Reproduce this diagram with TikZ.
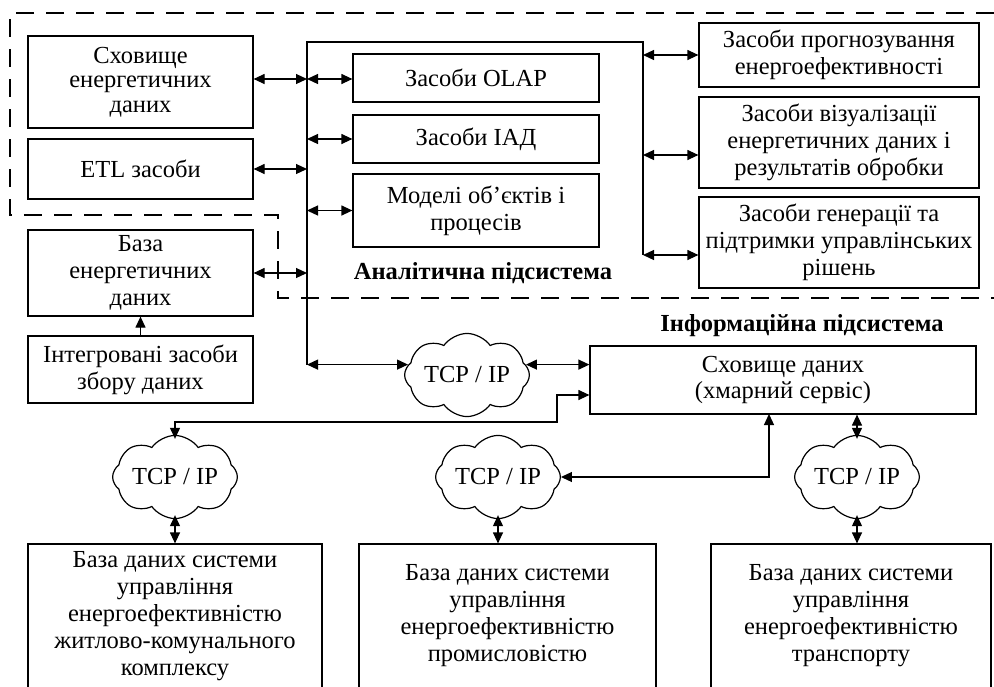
\documentclass[tikz,border=0pt]{standalone}
\usepackage{fontspec}
\setmainfont{Liberation Serif}
\usetikzlibrary{arrows.meta,shapes.symbols,calc}
\begin{document}
\begin{tikzpicture}[x=1pt,y=-1pt,line width=1.2pt,
  txt/.style={font=\fontsize{24.5}{27}\selectfont},
  box/.style={draw,rectangle,inner sep=0pt,align=center,txt},
  cloudn/.style={draw,cloud,cloud puffs=8,cloud puff arc=110,aspect=1.9,
     inner sep=0pt,minimum width=106pt,minimum height=60pt,txt},
  dbl/.style={{Triangle[length=11pt,width=10pt]}-{Triangle[length=11pt,width=10pt]}},
  arr/.style={-{Triangle[length=11pt,width=10pt]}},
  dsh/.style={dash pattern=on 18pt off 12pt},
  ttl/.style={font=\fontsize{24.5}{27}\selectfont\bfseries}]
\useasboundingbox (0,0) rectangle (994,686);
\clip (0,0) rectangle (994,686);
\fill[white] (0,0) rectangle (994,686);

% dashed boundary of the analytic subsystem
\draw[dsh] (994,13) -- (10,13) -- (10,215) -- (278,215) -- (278,298) -- (994,298);

% left boxes
\node[box,minimum width=225pt,minimum height=92pt,font=\fontsize{24.5}{24.5}\selectfont] (sd) at (140.5,82) {Сховище\\енергетичних\\даних};
\node[box,minimum width=225pt,minimum height=60pt] (etl) at (140.5,169) {ETL засоби};
\node[box,minimum width=225pt,minimum height=86pt] (baza) at (140.5,273) {База\\енергетичних\\даних};
\node[box,minimum width=225pt,minimum height=67pt] (intg) at (140.5,369.5) {Інтегровані засоби\\збору даних};

% inner boxes
\node[box,minimum width=246pt,minimum height=48pt] (olap) at (476,78) {Засоби OLAP};
\node[box,minimum width=246pt,minimum height=48pt] (iad) at (476,139) {Засоби ІАД};
\node[box,minimum width=246pt,minimum height=73pt] (mod) at (476,210.5) {Моделі об’єктів і\\процесів};
\node[ttl] (lab1) at (483,273) {Аналітична підсистема};

% right boxes
\node[box,minimum width=280pt,minimum height=64pt] (prog) at (839,55) {Засоби прогнозування\\енергоефективності};
\node[box,minimum width=280pt,minimum height=91pt] (viz) at (839,142.5) {Засоби візуалізації\\енергетичних даних і\\результатів обробки};
\node[box,minimum width=280pt,minimum height=91pt] (gen) at (839,242.5) {Засоби генерації та\\підтримки управлінських\\рішень};

% information subsystem
\node[ttl] (lab2) at (802,326) {Інформаційна підсистема};
\node[box,minimum width=386pt,minimum height=68pt,font=\fontsize{24.5}{25.5}\selectfont] (sdn) at (783,380) {Сховище даних\\(хмарний сервіс)};

% clouds
\node[cloudn] (c1) at (467,375) {TCP / IP};
\node[cloudn] (c2) at (175,477) {TCP / IP};
\node[cloudn] (c3) at (498,477) {TCP / IP};
\node[cloudn] (c4) at (857,477) {TCP / IP};

% bottom boxes
\node[box,minimum width=294pt,minimum height=144pt] (bb1) at (175,616) {База даних системи\\управління\\енергоефективністю\\житлово-комунального\\комплексу};
\node[box,minimum width=297pt,minimum height=144pt] (bb2) at (507.5,616) {База даних системи\\управління\\енергоефективністю\\промисловістю};
\node[box,minimum width=280pt,minimum height=144pt] (bb3) at (851,616) {База даних системи\\управління\\енергоефективністю\\транспорту};

% buses
\coordinate (busTop) at (307,42);
\coordinate (busBot) at (c1.170 -| busTop);
\coordinate (rTop) at (643,42);
\coordinate (rBot) at (643,255);
\draw (busBot) -- (busTop) -- (rTop) -- (rBot);

% left connections
\coordinate (b1) at (307,79);
\draw[dbl] (sd.east |- b1) -- (b1);
\draw[dbl] (b1) -- (b1 -| olap.west);
\draw[dbl] (etl.east) -- (etl.east -| b1);
\draw[dbl] (iad.west -| b1) -- (iad.west);
\draw[dbl] (mod.west -| b1) -- (mod.west);
\draw[dbl] (baza.east) -- (baza.east -| b1);
\draw[arr] (intg.north) -- (baza.south);

% right connections
\coordinate (a1) at (643,55);
\coordinate (a2) at (643,155);
\coordinate (a3) at (643,255);
\draw[dbl] (a1) -- (a1 -| prog.west);
\draw[dbl] (a2) -- (a2 -| viz.west);
\draw[dbl] (a3) -- (a3 -| gen.west);

% network connections
\draw[dbl] (busBot) -- (c1.170);
\draw[dbl] (c1.10) -- (c1.10 -| sdn.west);
\coordinate (j1) at (557,422);
\coordinate (j2) at (557,395);
\draw[dbl] ($(c2.north)+(0,4)$) |- (j1) -- (j2) -- (j2 -| sdn.west);
\coordinate (j3) at (769,414);
\draw[dbl] (c3.east) -| (j3);
\draw[dbl] (sdn.south -| c4) -- ($(c4.north)+(0,4)$);
\draw[dbl] ($(c2.south)+(0,-4)$) -- (bb1.north -| c2);
\draw[dbl] ($(c3.south)+(0,-4)$) -- (c3.south |- bb2.north);
\draw[dbl] ($(c4.south)+(0,-4)$) -- (c4.south |- bb3.north);
\end{tikzpicture}
\end{document}
